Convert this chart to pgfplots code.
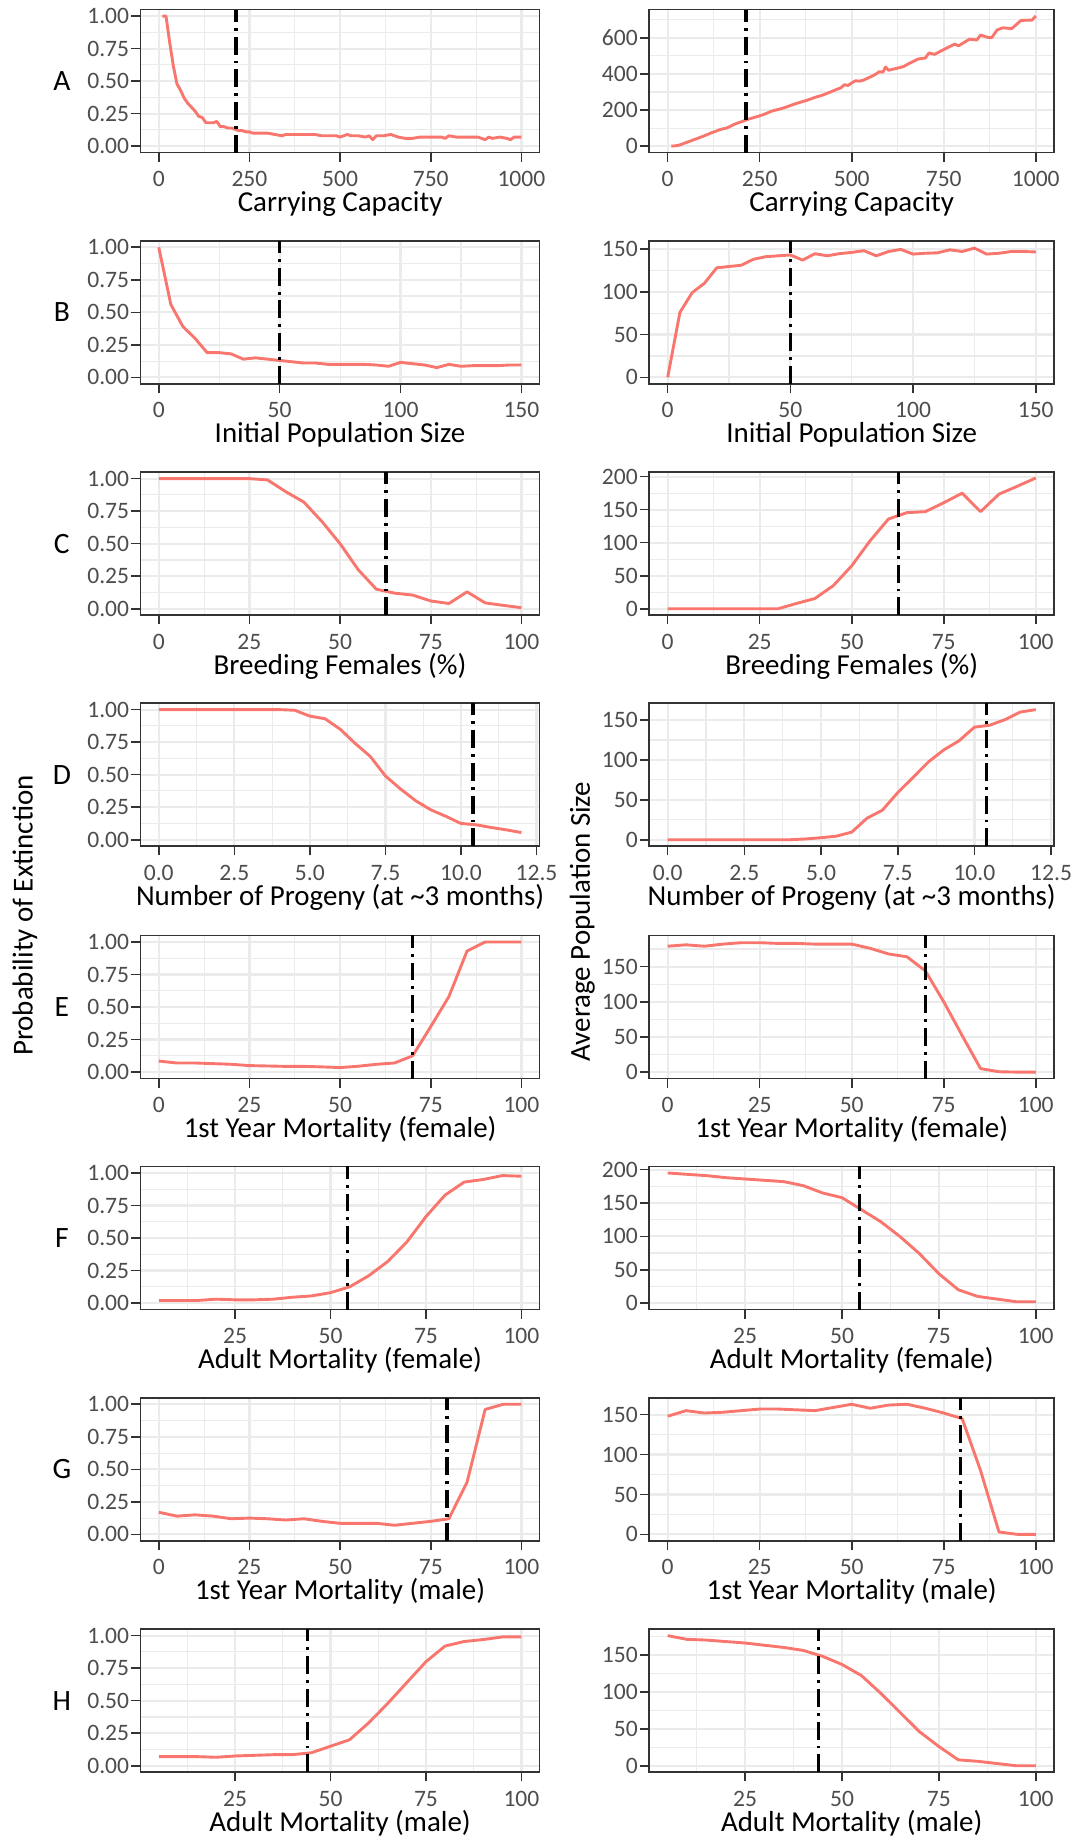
\documentclass[border=0pt]{standalone}
\usepackage{fontspec}
\setmainfont{Carlito}
\usepackage{pgfplots}
\pgfplotsset{compat=1.18}
\definecolor{Line}{HTML}{F8766D}
\definecolor{Grid}{HTML}{EBEBEB}
\definecolor{Frame}{HTML}{333333}
\definecolor{TickTxt}{HTML}{4D4D4D}

\pgfplotsset{
  panel/.style={
    scale only axis, height=71.75pt, anchor=north west,
    axis line style={Frame, line width=0.8pt},
    grid=both,
    major grid style={Grid, line width=1.1pt},
    minor grid style={Grid, line width=0.55pt},
    tick align=outside, major tick length=4.6pt, minor tick length=0pt,
    tick style={Frame, line width=0.8pt},
    xtick pos=bottom, ytick pos=left,
    tick label style={font=\fontsize{11.8}{13}\selectfont, color=TickTxt},
    yticklabel style={inner xsep=1pt},
    xticklabel style={inner ysep=0pt, yshift=-4.6pt},
    xlabel style={font=\fontsize{14.5}{16}\selectfont, inner sep=0pt,
      at={(axis description cs:0.5,0)}, anchor=center, yshift=-25.5pt},
    scaled ticks=false,
    /pgf/number format/assume math mode=true,
    /pgf/number format/1000 sep={},
  },
  lp/.style={panel, width=200pt, ymin=-0.05, ymax=1.05,
    ytick={0,0.25,0.5,0.75,1}, yticklabels={0.00,0.25,0.50,0.75,1.00},
    minor ytick={0.125,0.375,0.625,0.875}},
  rp/.style={panel, width=203pt},
  xc/.style={xmin=-5, xmax=105, xtick={0,25,50,75,100}, minor xtick={12.5,37.5,62.5,87.5}},
  xf/.style={xmin=0.25, xmax=104.75, xtick={25,50,75,100}, minor xtick={12.5,37.5,62.5,87.5}},
  dl/.style={Line, line width=1.45pt, line join=round, mark=none},
  vl/.style={black, line width=1.7pt, mark=none, dash pattern=on 9pt off 3pt on 1.4pt off 3pt},
}

\begin{document}
\begin{tikzpicture}
\path (0,0) rectangle (538.5pt,-918pt);

% ---------- A ----------
\begin{axis}[lp, at={(70.5pt,-4.8pt)}, xmin=-50, xmax=1050,
  xtick={0,250,500,750,1000}, minor xtick={125,375,625,875},
  xlabel={Carrying Capacity}]
\addplot[dl] coordinates {
(10,1.00) (20,1.00) (30,0.80) (40,0.62) (50,0.48) (60,0.43) (70,0.37) (80,0.33)
(90,0.30) (100,0.27) (110,0.23) (120,0.22) (130,0.18) (140,0.18) (150,0.18)
(160,0.19) (170,0.15) (180,0.15) (190,0.14) (200,0.14) (210,0.13) (220,0.12)
(230,0.12) (240,0.11) (250,0.11) (260,0.10) (280,0.10) (300,0.10) (320,0.09)
(340,0.08) (350,0.09) (370,0.09) (390,0.09) (410,0.09) (430,0.09) (450,0.08)
(470,0.08) (490,0.08) (500,0.07) (510,0.08) (520,0.09) (530,0.08) (550,0.08)
(570,0.07) (580,0.08) (590,0.05) (600,0.08) (620,0.08) (640,0.09) (660,0.07)
(680,0.06) (700,0.06) (720,0.07) (740,0.07) (760,0.07) (780,0.07) (790,0.06)
(800,0.08) (820,0.07) (840,0.07) (860,0.07) (880,0.07) (890,0.06) (900,0.05)
(910,0.07) (920,0.06) (940,0.07) (960,0.06) (970,0.05) (980,0.07) (1000,0.07)};
\addplot[vl] coordinates {(213,-0.05) (213,1.05)};
\end{axis}

\begin{axis}[rp, at={(325.5pt,-4.8pt)}, xmin=-50, xmax=1050, ymin=-36, ymax=756,
  xtick={0,250,500,750,1000}, minor xtick={125,375,625,875},
  ytick={0,200,400,600}, minor ytick={100,300,500,700},
  xlabel={Carrying Capacity}]
\addplot[dl] coordinates {
(10,0) (20,2) (30,5) (40,12) (50,20) (60,27) (70,35) (80,42) (90,50) (100,58)
(110,66) (120,75) (130,82) (140,90) (150,96) (160,100) (170,110) (180,120)
(190,128) (200,135) (210,142) (220,150) (230,156) (240,162) (250,168) (260,175)
(270,183) (280,192) (290,198) (300,203) (320,215) (340,230) (360,243) (380,255)
(400,270) (420,282) (440,298) (460,315) (470,322) (480,340) (490,336) (500,350)
(510,362) (520,360) (530,364) (540,373) (560,392) (575,412) (585,410) (592,438)
(600,420) (620,430) (640,440) (660,462) (680,482) (700,488) (710,516) (725,508)
(750,535) (770,555) (780,565) (790,555) (810,580) (820,592) (840,588) (850,615)
(870,602) (880,600) (895,643) (910,655) (935,651) (960,696) (990,698) (1000,721)};
\addplot[vl] coordinates {(213,-36) (213,756)};
\end{axis}

% ---------- B ----------
\begin{axis}[lp, at={(70.5pt,-120.7pt)}, xmin=-7.5, xmax=157.5,
  xtick={0,50,100,150}, minor xtick={25,75,125},
  xlabel={Initial Population Size}]
\addplot[dl] coordinates {
(0,1.00) (5,0.56) (10,0.39) (15,0.30) (20,0.19) (25,0.19) (30,0.18) (35,0.14)
(40,0.15) (45,0.14) (50,0.13) (55,0.12) (60,0.11) (65,0.11) (70,0.10) (75,0.10)
(80,0.10) (85,0.10) (90,0.095) (95,0.085) (100,0.115) (105,0.105) (110,0.095)
(115,0.075) (120,0.10) (125,0.085) (130,0.09) (135,0.09) (140,0.09) (145,0.095) (150,0.095)};
\addplot[vl] coordinates {(50,-0.05) (50,1.05)};
\end{axis}

\begin{axis}[rp, at={(325.5pt,-120.7pt)}, xmin=-7.5, xmax=157.5, ymin=-7.6, ymax=159.6,
  xtick={0,50,100,150}, minor xtick={25,75,125},
  ytick={0,50,100,150}, minor ytick={25,75,125},
  xlabel={Initial Population Size}]
\addplot[dl] coordinates {
(0,0) (5,76) (10,99) (15,110) (20,128) (25,129.5) (30,131) (35,138) (40,141)
(45,142) (50,143) (55,137) (60,144.5) (65,142) (70,144.5) (75,146) (80,148)
(85,142) (90,147) (95,149.5) (100,144) (105,145) (110,145.5) (115,149) (120,147)
(125,151) (130,144) (135,145) (140,147) (145,147) (150,146.5)};
\addplot[vl] coordinates {(50,-7.6) (50,159.6)};
\end{axis}

% ---------- C ----------
\begin{axis}[lp, xc, at={(70.5pt,-236.7pt)}, xlabel={Breeding Females (\%)}]
\addplot[dl] coordinates {
(0,1) (5,1) (10,1) (15,1) (20,1) (25,1) (30,0.99) (35,0.90) (40,0.82) (45,0.67)
(50,0.50) (55,0.30) (60,0.15) (65,0.12) (70,0.105) (75,0.06) (80,0.04) (85,0.13)
(90,0.045) (95,0.026) (100,0.008)};
\addplot[vl] coordinates {(62.7,-0.05) (62.7,1.05)};
\end{axis}

\begin{axis}[rp, xc, at={(325.5pt,-236.7pt)}, ymin=-9.85, ymax=206.85,
  ytick={0,50,100,150,200}, minor ytick={25,75,125,175},
  xlabel={Breeding Females (\%)}]
\addplot[dl] coordinates {
(0,0) (5,0) (10,0) (15,0) (20,0) (25,0) (30,0) (35,8) (40,15.5) (45,35) (50,65)
(55,103) (60,136) (65,145.5) (70,147) (75,160.5) (80,175) (85,147) (90,173.5)
(95,185.5) (100,198)};
\addplot[vl] coordinates {(62.7,-9.85) (62.7,206.85)};
\end{axis}

% ---------- D ----------
\begin{axis}[lp, at={(70.5pt,-352.5pt)}, xmin=-0.6, xmax=12.6,
  xtick={0,2.5,5,7.5,10,12.5}, xticklabels={0.0,2.5,5.0,7.5,10.0,12.5},
  minor xtick={1.25,3.75,6.25,8.75,11.25},
  xlabel={Number of Progeny (at \textasciitilde{}3 months)}]
\addplot[dl] coordinates {
(0,1) (0.5,1) (1,1) (1.5,1) (2,1) (2.5,1) (3,1) (3.5,1) (4,1) (4.5,0.995)
(5,0.95) (5.5,0.93) (6,0.85) (6.5,0.74) (7,0.64) (7.5,0.49) (8,0.39) (8.5,0.30)
(9,0.23) (9.5,0.18) (10,0.125) (10.5,0.115) (11,0.094) (11.5,0.076) (12,0.055)};
\addplot[vl] coordinates {(10.4,-0.05) (10.4,1.05)};
\end{axis}

\begin{axis}[rp, at={(325.5pt,-352.5pt)}, xmin=-0.6, xmax=12.6, ymin=-8.15, ymax=171.15,
  xtick={0,2.5,5,7.5,10,12.5}, xticklabels={0.0,2.5,5.0,7.5,10.0,12.5},
  minor xtick={1.25,3.75,6.25,8.75,11.25},
  ytick={0,50,100,150}, minor ytick={25,75,125},
  xlabel={Number of Progeny (at \textasciitilde{}3 months)}]
\addplot[dl] coordinates {
(0,0) (0.5,0) (1,0) (1.5,0) (2,0) (2.5,0) (3,0) (3.5,0) (4,0) (4.5,1) (5,2.5)
(5.5,4.5) (6,9.5) (6.5,27) (7,37) (7.5,59) (8,78) (8.5,97.5) (9,112.5) (9.5,124)
(10,141) (10.5,143.5) (11,150.5) (11.5,160) (12,163)};
\addplot[vl] coordinates {(10.4,-8.15) (10.4,171.15)};
\end{axis}

% ---------- E ----------
\begin{axis}[lp, xc, at={(70.5pt,-469pt)}, xlabel={1st Year Mortality (female)}]
\addplot[dl] coordinates {
(0,0.085) (5,0.07) (10,0.07) (15,0.065) (20,0.06) (25,0.05) (30,0.047) (35,0.044)
(40,0.044) (45,0.04) (50,0.035) (55,0.045) (60,0.06) (65,0.07) (70,0.125)
(75,0.35) (80,0.58) (85,0.93) (90,1) (95,1) (100,1)};
\addplot[vl] coordinates {(70,-0.05) (70,1.05)};
\end{axis}

\begin{axis}[rp, xc, at={(325.5pt,-469pt)}, ymin=-9.25, ymax=194.25,
  ytick={0,50,100,150}, minor ytick={25,75,125,175},
  xlabel={1st Year Mortality (female)}]
\addplot[dl] coordinates {
(0,179) (5,181) (10,179) (15,182) (20,184) (25,184) (30,183) (35,183) (40,182)
(45,182) (50,182) (55,176) (60,168) (65,164) (70,144) (75,100) (80,52) (85,5)
(90,0.5) (95,0) (100,0)};
\addplot[vl] coordinates {(70,-9.25) (70,194.25)};
\end{axis}

% ---------- F ----------
\begin{axis}[lp, xf, at={(70.5pt,-584.8pt)}, xlabel={Adult Mortality (female)}]
\addplot[dl] coordinates {
(5,0.02) (10,0.02) (15,0.02) (20,0.03) (25,0.025) (30,0.025) (35,0.03) (40,0.045)
(45,0.055) (50,0.08) (55,0.125) (60,0.21) (65,0.32) (70,0.47) (75,0.665) (80,0.83)
(85,0.93) (90,0.95) (95,0.98) (100,0.975)};
\addplot[vl] coordinates {(54.5,-0.05) (54.5,1.05)};
\end{axis}

\begin{axis}[rp, xf, at={(325.5pt,-584.8pt)}, ymin=-9.75, ymax=204.75,
  ytick={0,50,100,150,200}, minor ytick={25,75,125,175},
  xlabel={Adult Mortality (female)}]
\addplot[dl] coordinates {
(5,195) (10,193) (15,191) (20,188) (25,186) (30,184) (35,182) (40,176) (45,165)
(50,158) (55,140) (60,122) (65,99.5) (70,74) (75,44) (80,20) (85,10) (90,6)
(95,2) (100,2)};
\addplot[vl] coordinates {(54.5,-9.75) (54.5,204.75)};
\end{axis}

% ---------- G ----------
\begin{axis}[lp, xc, at={(70.5pt,-700.75pt)}, xlabel={1st Year Mortality (male)}]
\addplot[dl] coordinates {
(0,0.17) (5,0.14) (10,0.15) (15,0.14) (20,0.12) (25,0.125) (30,0.12) (35,0.11)
(40,0.12) (45,0.10) (50,0.085) (55,0.085) (60,0.085) (65,0.07) (70,0.085)
(75,0.10) (80,0.12) (85,0.40) (90,0.96) (95,1) (100,1)};
\addplot[vl] coordinates {(79.5,-0.05) (79.5,1.05)};
\end{axis}

\begin{axis}[rp, xc, at={(325.5pt,-700.75pt)}, ymin=-8.15, ymax=171.15,
  ytick={0,50,100,150}, minor ytick={25,75,125},
  xlabel={1st Year Mortality (male)}]
\addplot[dl] coordinates {
(0,148) (5,155) (10,152) (15,153) (20,155) (25,157) (30,157) (35,156) (40,155)
(45,159) (50,163) (55,158) (60,162) (65,163) (70,158) (75,152) (80,145) (85,80)
(90,3) (95,0) (100,0)};
\addplot[vl] coordinates {(79.5,-8.15) (79.5,171.15)};
\end{axis}

% ---------- H ----------
\begin{axis}[lp, xf, at={(70.5pt,-816.75pt)}, xlabel={Adult Mortality (male)}]
\addplot[dl] coordinates {
(5,0.07) (10,0.07) (15,0.07) (20,0.065) (25,0.075) (30,0.08) (35,0.085) (40,0.085)
(45,0.10) (50,0.15) (55,0.20) (60,0.33) (65,0.48) (70,0.64) (75,0.80) (80,0.92)
(85,0.955) (90,0.97) (95,0.99) (100,0.99)};
\addplot[vl] coordinates {(44,-0.05) (44,1.05)};
\end{axis}

\begin{axis}[rp, xf, at={(325.5pt,-816.75pt)}, ymin=-8.8, ymax=184.8,
  ytick={0,50,100,150}, minor ytick={25,75,125,175},
  xlabel={Adult Mortality (male)}]
\addplot[dl] coordinates {
(5,176) (10,171) (15,170) (20,168) (25,166) (30,163) (35,160) (40,156) (45,148)
(50,137) (55,122) (60,98) (65,72) (70,46) (75,26) (80,8) (85,6) (90,3) (95,0) (100,0)};
\addplot[vl] coordinates {(44,-8.8) (44,184.8)};
\end{axis}

% panel letters and shared axis titles
\begin{scope}[every node/.style={font=\fontsize{14.8}{16}\selectfont}]
\node at (31pt,-40.7pt) {A};
\node at (31pt,-156.6pt) {B};
\node at (31pt,-272.6pt) {C};
\node at (31pt,-388.4pt) {D};
\node at (31pt,-504.9pt) {E};
\node at (31pt,-620.7pt) {F};
\node at (31pt,-736.6pt) {G};
\node at (31pt,-852.6pt) {H};
\end{scope}
\node[rotate=90, font=\fontsize{14.5}{16}\selectfont] at (12.5pt,-459pt) {Probability of Extinction};
\node[rotate=90, font=\fontsize{14.5}{16}\selectfont] at (292pt,-462pt) {Average Population Size};
\end{tikzpicture}
\end{document}
